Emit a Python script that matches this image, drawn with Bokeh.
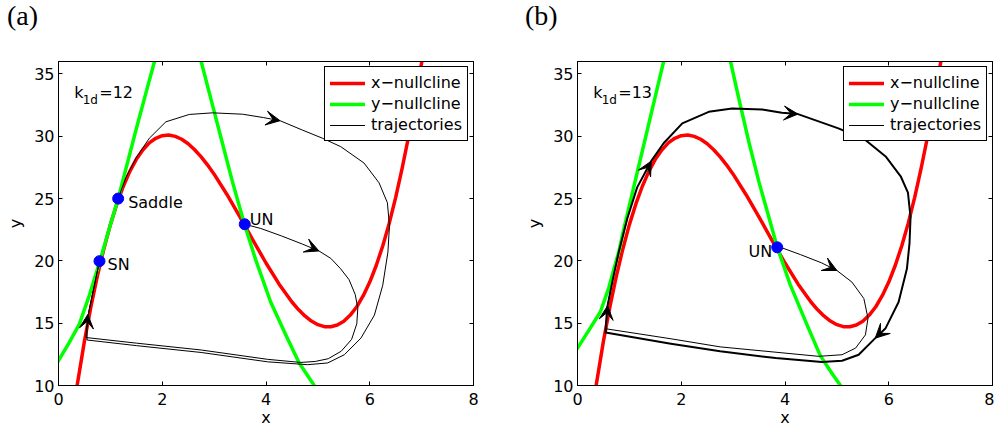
from bokeh.plotting import figure
from bokeh.layouts import row, column
from bokeh.models import (Range1d, LinearAxis, FixedTicker, Legend, LegendItem,
                          Arrow, VeeHead, ColumnDataSource, Div)
from bokeh.core.properties import value
from bokeh.embed import file_html
from bokeh.resources import INLINE

FONT = "DejaVu Sans"

# ---------------- data ----------------
x_ticks = [0, 2, 4, 6, 8]
y_ticks = [10, 15, 20, 25, 30, 35]

# x-nullcline (same in both panels)
xnull_x = [0.30, 0.50, 0.625, 0.75, 0.875, 1.00, 1.125, 1.25, 1.375, 1.50, 1.625, 1.75,
           1.875, 2.00, 2.125, 2.25, 2.375, 2.50, 2.625, 2.75, 2.875, 3.00, 3.25, 3.50,
           3.75, 4.00, 4.25, 4.50, 4.625, 4.75, 4.875, 5.00, 5.125, 5.25, 5.375, 5.50,
           5.625, 5.75, 5.875, 6.00, 6.125, 6.25, 6.375, 6.50, 6.625, 6.75, 6.875, 7.00,
           7.10]
xnull_y = [8.50, 13.56, 16.32, 18.79, 20.98, 22.91, 24.57, 25.99, 27.18, 28.15, 28.90, 29.47,
           29.84, 30.05, 30.10, 29.99, 29.76, 29.40, 28.92, 28.35, 27.69, 26.96, 25.31, 23.51,
           21.65, 19.83, 18.15, 16.70, 16.09, 15.58, 15.17, 14.88, 14.72, 14.71, 14.85, 15.16,
           15.65, 16.32, 17.21, 18.30, 19.63, 21.20, 23.01, 25.10, 27.45, 30.00, 33.05, 35.90,
           38.30]

# y-nullcline, panel (a)
ynull_a_left_x = [-0.05, 0.0, 0.2, 0.4, 0.6, 0.8, 1.0, 1.15, 1.3, 1.5, 1.7, 1.85, 1.9]
ynull_a_left_y = [11.6, 12.0, 13.4, 14.9, 17.3, 20.0, 22.9, 25.0, 27.4, 30.6, 33.7, 36.0, 36.8]
ynull_a_right_x = [2.70, 2.75, 2.95, 3.15, 3.35, 3.58, 3.80, 4.09, 4.40, 4.64, 4.93, 5.00]
ynull_a_right_y = [36.8, 36.0, 32.8, 29.6, 26.4, 23.0, 20.1, 16.7, 13.9, 11.8, 10.0, 9.6]

# y-nullcline, panel (b)
ynull_b_left_x = [-0.05, 0.0, 0.2, 0.44, 0.6, 0.8, 0.89, 1.1, 1.3, 1.5, 1.66, 1.75]
ynull_b_left_y = [12.7, 13.0, 14.3, 15.9, 17.8, 20.8, 22.5, 26.2, 29.7, 33.2, 36.0, 37.6]
ynull_b_right_x = [2.90, 2.95, 3.10, 3.30, 3.50, 3.75, 3.85, 4.10, 4.40, 4.68, 4.90, 5.07, 5.12]
ynull_b_right_y = [36.8, 36.0, 33.2, 29.6, 26.3, 22.6, 21.1, 18.1, 15.1, 12.4, 11.0, 10.0, 9.7]

# trajectories, panel (a)
traj_a1_x = [3.59, 3.9, 4.3, 4.7, 5.02, 5.25, 5.44, 5.6, 5.72, 5.77, 5.75, 5.65, 5.45, 5.2,
             4.95, 4.67, 4.03, 2.75, 1.5, 0.53, 0.54, 0.58, 0.65, 0.72, 0.79]
traj_a1_y = [22.94, 22.6, 22.0, 21.35, 20.8, 20.2, 19.36, 18.5, 17.3, 16.2, 14.95, 13.7, 12.75,
             12.15, 11.93, 11.85, 12.1, 12.85, 13.4, 13.85, 14.6, 15.8, 17.2, 18.6, 19.98]
traj_a2_x = [1.15, 1.3, 1.5, 1.75, 2.07, 2.52, 2.97, 3.55, 3.95, 4.27, 4.7, 5.09, 5.44, 5.89,
             6.18, 6.34, 6.38, 6.35, 6.25, 6.09, 5.83, 5.51, 5.19, 4.80, 4.03, 2.75, 1.5, 0.55,
             0.55, 0.58, 0.65, 0.72, 0.79]
traj_a2_y = [25.0, 26.7, 28.3, 29.84, 31.16, 31.75, 31.88, 31.77, 31.5, 31.25, 30.5, 29.84,
             29.17, 27.85, 26.26, 24.67, 22.8, 20.7, 18.04, 15.65, 13.8, 12.47, 11.81, 11.67,
             11.9, 12.65, 13.2, 13.65, 14.6, 15.8, 17.2, 18.6, 19.98]

# trajectories, panel (b)
traj_b1_x = [3.85, 3.94, 4.3, 4.7, 5.0, 5.29, 5.52, 5.6, 5.55, 5.36, 5.1, 4.65, 4.0, 2.75,
             1.8, 0.55, 0.57, 0.63]
traj_b1_y = [21.09, 21.05, 20.5, 19.85, 19.23, 18.3, 16.98, 15.39, 14.06, 13.0, 12.47, 12.34,
             12.6, 13.1, 13.75, 14.55, 16.2, 17.5]
traj_b2_x = [0.54, 0.57, 0.68, 0.80, 0.96, 1.15, 1.42, 1.66, 2.02, 2.53, 2.98, 3.56, 3.94,
             4.25, 5.03, 5.55, 5.94, 6.23, 6.37, 6.42, 6.40, 6.35, 6.19, 5.94, 5.74, 5.42,
             5.10, 4.71, 3.82, 2.75, 1.80, 0.54]
traj_b2_y = [14.25, 16.2, 18.5, 20.8, 23.4, 25.9, 28.0, 29.44, 31.03, 31.96, 32.23, 32.15,
             31.88, 31.78, 30.63, 29.7, 28.38, 26.79, 25.47, 23.5, 21.4, 19.36, 16.7, 14.6,
             13.8, 12.47, 11.99, 11.89, 12.2, 12.75, 13.35, 14.25]

# arrow heads: from point -> tip
arr_a_x0 = [3.95, 4.70, 0.54]
arr_a_y0 = [31.50, 21.35, 14.60]
arr_a_x1 = [4.27, 5.02, 0.565]
arr_a_y1 = [31.25, 20.80, 15.70]
arr_b_x0 = [0.555, 1.25, 3.94, 5.94, 4.70]
arr_b_y0 = [15.40, 26.70, 31.88, 14.60, 19.85]
arr_b_x1 = [0.58, 1.42, 4.25, 5.74, 5.00]
arr_b_y1 = [16.40, 28.00, 31.78, 13.80, 19.23]

# fixed points
fp_a_x = [0.79, 1.15, 3.59]
fp_a_y = [19.98, 25.0, 22.94]
fp_a_lbl = ["SN", "Saddle", "UN"]
fp_b_x = [3.85]
fp_b_y = [21.09]
fp_b_lbl = ["UN"]

k1d_a = "=12"
k1d_b = "=13"

TAG_H = 30


def make_panel(w, ml, mr, ynl_l, ynl_r, thin, thick, arrows, fp, lbl_specs, kval):
    p = figure(width=w, height=429 - TAG_H, x_range=Range1d(0, 8), y_range=Range1d(10, 36),
               output_backend="svg", toolbar_location=None, title_location=None,
               min_border_left=ml, min_border_right=mr, min_border_top=61 - TAG_H,
               min_border_bottom=41, background_fill_color="white",
               border_fill_color="white", margin=0)
    p.xgrid.visible = False
    p.ygrid.visible = False
    p.outline_line_color = "black"
    p.outline_line_alpha = 1
    p.outline_line_width = 1

    for ax, ticks in ((p.xaxis[0], x_ticks), (p.yaxis[0], y_ticks)):
        ax.ticker = FixedTicker(ticks=ticks)
        ax.major_tick_in = 4
        ax.major_tick_out = 0
        ax.minor_tick_line_color = None
        ax.axis_line_color = "black"
        ax.major_tick_line_color = "black"
        ax.major_label_text_font = FONT
        ax.major_label_text_font_size = "16px"
        ax.major_label_text_color = "black"
        ax.axis_label_text_font = FONT
        ax.axis_label_text_font_size = "16px"
        ax.axis_label_text_font_style = "normal"
        ax.axis_label_text_color = "black"
    p.xaxis[0].axis_label = "x"
    p.yaxis[0].axis_label = "y"
    p.xaxis[0].major_label_standoff = 7
    p.xaxis[0].axis_label_standoff = 0
    p.yaxis[0].major_label_standoff = 4
    p.yaxis[0].axis_label_standoff = 6

    for side, ticks in (("above", x_ticks), ("right", y_ticks)):
        ax = LinearAxis(ticker=FixedTicker(ticks=ticks), major_tick_in=4, major_tick_out=0,
                        minor_tick_line_color=None, major_label_text_font_size="0px",
                        major_label_text_color=None,
                        major_label_standoff=0, axis_line_color="black")
        p.add_layout(ax, side)

    lw = dict(line_join="round", line_cap="round")
    r_red = p.line(xnull_x, xnull_y, line_color="#ff0000", line_width=3.5, **lw)
    r_green = p.line(ynl_l[0], ynl_l[1], line_color="#00ff00", line_width=3.5, **lw)
    p.line(ynl_r[0], ynl_r[1], line_color="#00ff00", line_width=3.5, **lw)

    r_traj = None
    for tx, ty in thin:
        r = p.line(tx, ty, line_color="black", line_width=1, **lw)
        if r_traj is None:
            r_traj = r
    for tx, ty in thick:
        p.line(tx, ty, line_color="black", line_width=2, **lw)

    src = ColumnDataSource(dict(x0=arrows[0], y0=arrows[1], x1=arrows[2], y1=arrows[3]))
    p.add_layout(Arrow(end=VeeHead(size=14, fill_color="black", line_color="black",
                                   line_width=1),
                       x_start="x0", y_start="y0", x_end="x1", y_end="y1",
                       line_alpha=0, source=src))

    p.scatter(fp[0], fp[1], size=11, fill_color="#0000ff", line_color="#0000ff")
    for (x, y, t, align, dx, dy) in lbl_specs:
        p.text(x=[x], y=[y], text=[t], text_font=value(FONT), text_font_size="16px",
               text_align=align, text_baseline="middle", x_offset=dx, y_offset=dy,
               text_color="black")

    # k_1d label
    p.text(x=[0.305], y=[33.55], text=["k"], text_font=value(FONT), text_font_size="16px",
           text_baseline="alphabetic", text_color="black")
    p.text(x=[0.466], y=[32.89], text=["1d"], text_font=value(FONT), text_font_size="12px",
           text_baseline="alphabetic", text_color="black")
    p.text(x=[0.786], y=[33.55], text=[kval], text_font=value(FONT), text_font_size="16px",
           text_baseline="alphabetic", text_color="black")

    legend = Legend(items=[LegendItem(label="x\u2212nullcline", renderers=[r_red]),
                           LegendItem(label="y\u2212nullcline", renderers=[r_green]),
                           LegendItem(label="trajectories", renderers=[r_traj])],
                    location="top_right", margin=5, padding=5, spacing=0,
                    label_height=21, glyph_height=20, glyph_width=35, label_standoff=6,
                    label_text_font=FONT, label_text_font_size="16px",
                    label_text_color="black", border_line_color="black",
                    border_line_width=1, border_line_alpha=1,
                    background_fill_color="white", background_fill_alpha=1)
    p.add_layout(legend)
    return p


def make_tag(text, w, pad):
    return Div(text=text, width=w, height=TAG_H, margin=0,
               styles={"font-family": "Liberation Serif", "font-size": "28px",
                       "line-height": "32px", "padding-left": "%dpx" % pad,
                       "color": "black", "white-space": "nowrap", "overflow": "visible"})


lbl_a = [(fp_a_x[0], fp_a_y[0], fp_a_lbl[0], "left", 8, 3),
         (fp_a_x[1], fp_a_y[1], fp_a_lbl[1], "left", 10, 4),
         (fp_a_x[2], fp_a_y[2], fp_a_lbl[2], "left", 5, -5)]
lbl_b = [(fp_b_x[0], fp_b_y[0], fp_b_lbl[0], "right", -5, 4)]

pa = make_panel(500, 58, 27,
                (ynull_a_left_x, ynull_a_left_y), (ynull_a_right_x, ynull_a_right_y),
                [(traj_a1_x, traj_a1_y), (traj_a2_x, traj_a2_y)], [],
                (arr_a_x0, arr_a_y0, arr_a_x1, arr_a_y1),
                (fp_a_x, fp_a_y), lbl_a, k1d_a)
pb = make_panel(494, 77, 2,
                (ynull_b_left_x, ynull_b_left_y), (ynull_b_right_x, ynull_b_right_y),
                [(traj_b1_x, traj_b1_y)], [(traj_b2_x, traj_b2_y)],
                (arr_b_x0, arr_b_y0, arr_b_x1, arr_b_y1),
                (fp_b_x, fp_b_y), lbl_b, k1d_b)

layout = row(column(make_tag("(a)", 500, 7), pa, spacing=0, margin=0),
             column(make_tag("(b)", 494, 25), pb, spacing=0, margin=0),
             spacing=0, margin=0)
open("out.html", "w").write(file_html(layout, INLINE))
